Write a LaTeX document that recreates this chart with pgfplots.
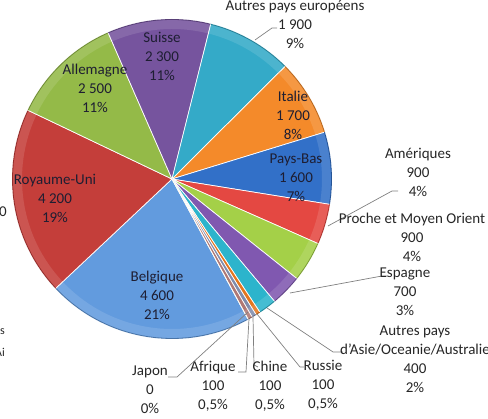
\documentclass[border=0pt]{standalone}
\usepackage{pgfplots}
\pgfplotsset{compat=1.18}
\usepackage{pgfplotstable}
\usepackage{fontspec}
\setmainfont{Carlito}

\definecolor{cBel}{RGB}{98,155,222}
\definecolor{cRU}{RGB}{196,62,58}
\definecolor{cAll}{RGB}{148,186,72}
\definecolor{cSui}{RGB}{118,84,158}
\definecolor{cAut}{RGB}{52,170,200}
\definecolor{cIta}{RGB}{244,138,42}
\definecolor{cPB}{RGB}{50,112,200}
\definecolor{cAme}{RGB}{228,72,66}
\definecolor{cPro}{RGB}{164,208,72}
\definecolor{cEsp}{RGB}{128,88,176}
\definecolor{cAsi}{RGB}{44,180,204}
\definecolor{cRus}{RGB}{228,118,30}
\definecolor{cChi}{RGB}{128,140,172}
\definecolor{cAfr}{RGB}{176,120,116}
\definecolor{cJap}{RGB}{150,180,90}
\definecolor{txt}{RGB}{38,38,38}
\definecolor{intxt}{RGB}{30,30,50}
\definecolor{lead}{RGB}{128,128,128}

\tikzset{
  lbl/.style={font=\fontsize{15}{19}\selectfont, text=txt, align=center, inner sep=0pt},
  inl/.style={lbl, text=intxt},
}

% slices, clockwise from Belgique
\pgfplotstableread{
value col
4600 cBel
4200 cRU
2500 cAll
2300 cSui
1900 cAut
1700 cIta
1600 cPB
900 cAme
900 cPro
700 cEsp
400 cAsi
100 cRus
100 cChi
100 cAfr
0 cJap
}\pietable

\begin{document}
\begin{tikzpicture}
\useasboundingbox (0,0) rectangle (488pt,419pt);
\clip (0,0) rectangle (488pt,419pt);
\begin{axis}[
    x=1pt, y=1pt,
    xmin=0, xmax=488, ymin=0, ymax=419,
    hide axis, clip=false,
]
\pgfplotsextra{
  \pgfplotstablegetrowsof{\pietable}
  \pgfmathtruncatemacro\lastrow{\pgfplotsretval-1}
  % sums kept in hundreds, pgfmath stops at 16383
  \gdef\total{0}
  \foreach \i in {0,...,\lastrow} {
    \pgfplotstablegetelem{\i}{value}\of\pietable
    \pgfmathsetmacro\tmp{\total+\pgfplotsretval/100}
    \xdef\total{\tmp}
  }
  \gdef\cum{0}
  \foreach \i in {0,...,\lastrow} {
    \pgfplotstablegetelem{\i}{value}\of\pietable
    \pgfmathsetmacro\val{\pgfplotsretval/100}
    \pgfplotstablegetelem{\i}{col}\of\pietable
    \let\slicecol\pgfplotsretval
    \pgfmathsetmacro\aA{-61.5-\cum/\total*360}
    \pgfmathsetmacro\aB{-61.5-(\cum+\val)/\total*360}
    \fill[\slicecol, draw=white, line width=0.7pt]
      (axis cs:172,240) -- ++(\aA:160pt) arc[start angle=\aA, end angle=\aB, radius=160pt] -- cycle;
    \fill[white, opacity=0.12]
      (axis cs:172,240) ++(\aA:159pt) arc[start angle=\aA, end angle=\aB, radius=159pt]
      -- ++(\aB+180:9pt) arc[start angle=\aB, end angle=\aA, radius=150pt] -- cycle;
    \draw[\slicecol!75!black, line width=0.8pt]
      (axis cs:172,240) ++(\aA:159.5pt) arc[start angle=\aA, end angle=\aB, radius=159.5pt];
    \pgfmathsetmacro\tmp{\cum+\val}
    \xdef\cum{\tmp}
  }
}

% leader lines
\draw[lead, line width=0.7pt] (axis cs:255,379) -- (axis cs:272,391) -- (axis cs:277,391);
\draw[lead, line width=0.7pt] (axis cs:398,228) -- (axis cs:392,228) -- (axis cs:328,193);
\draw[lead, line width=0.7pt] (axis cs:388,143) -- (axis cs:382,143) -- (axis cs:290,126);
\draw[lead, line width=0.7pt] (axis cs:343,67) -- (axis cs:333,67) -- (axis cs:267,111);
\draw[lead, line width=0.7pt] (axis cs:304,52) -- (axis cs:300,52) -- (axis cs:257,105);
\draw[lead, line width=0.7pt] (axis cs:258,52) -- (axis cs:254,54) -- (axis cs:253,102);
\draw[lead, line width=0.7pt] (axis cs:238,47) -- (axis cs:246,47) -- (axis cs:249,100);
\draw[lead, line width=0.7pt] (axis cs:168,42) -- (axis cs:177,42) -- (axis cs:248,107);

% labels inside
\node[inl] at (axis cs:162,363) {Suisse\\2 300\\11\%};
\node[inl] at (axis cs:95,331) {Allemagne\\2 500\\11\%};
\node[inl] at (axis cs:293,304) {Italie\\1 700\\8\%};
\node[inl] at (axis cs:55,221) {Royaume-Uni\\4 200\\19\%};
\node[inl] at (axis cs:296,241) {Pays-Bas\\1 600\\7\%};
\node[inl] at (axis cs:157,124) {Belgique\\4 600\\21\%};
% labels outside
\node[lbl] at (axis cs:295,395) {Autres pays européens\\1 900\\9\%};
\node[lbl] at (axis cs:418,247) {Amériques\\900\\4\%};
\node[lbl] at (axis cs:412,182) {Proche et Moyen Orient\\900\\4\%};
\node[lbl] at (axis cs:405,127) {Espagne\\700\\3\%};
\node[lbl] at (axis cs:415,60) {Autres pays\\d'Asie/Oceanie/Australie\\400\\2\%};
\node[lbl] at (axis cs:323,34) {Russie\\100\\0,5\%};
\node[lbl] at (axis cs:270,33) {Chine\\100\\0,5\%};
\node[lbl] at (axis cs:213,33) {Afrique\\100\\0,5\%};
\node[lbl] at (axis cs:150,29) {Japon\\0\\0\%};
% cut-off text at the left edge
\node[lbl, anchor=east] at (axis cs:7,207) {0};
\node[lbl, anchor=east, font=\fontsize{12}{14}\selectfont] at (axis cs:5,86) {ys};
\node[lbl, anchor=east, font=\fontsize{12}{14}\selectfont] at (axis cs:5,67) {Ai};
\end{axis}
\end{tikzpicture}
\end{document}
